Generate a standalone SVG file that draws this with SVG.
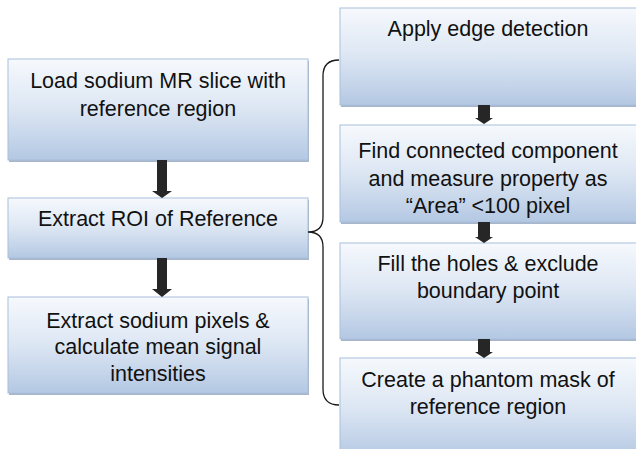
<svg xmlns="http://www.w3.org/2000/svg" width="636" height="449" viewBox="0 0 636 449">
  <defs>
    <linearGradient id="boxFill" x1="0" y1="0" x2="0" y2="1">
      <stop offset="0" stop-color="#f6f9fd"/>
      <stop offset="0.5" stop-color="#dce6f3"/>
      <stop offset="1" stop-color="#b4c8e3"/>
    </linearGradient>
  </defs>
  <style>
    .shadow { fill: #8a9dba; opacity: 0.75; }
    .box { fill: url(#boxFill); stroke: #a9bfdc; stroke-width: 1; }
    .label { font-family: "Liberation Sans", Arial, sans-serif; font-size: 21.5px; fill: #111; text-anchor: middle; }
    .arrow { fill: #262626; }
    .brace { fill: none; stroke: #1a1a1a; stroke-width: 1.3; }
  </style>
  <rect width="636" height="449" fill="#ffffff"/>

  <!-- left column -->
  <g id="load-slice">
    <rect class="shadow" x="9" y="61" width="300" height="101"/>
    <rect class="box" x="8" y="59" width="300" height="101"/>
    <text class="label" x="158" y="88">Load sodium MR slice with</text>
    <text class="label" x="158" y="116">reference region</text>
  </g>
  <g id="extract-roi">
    <rect class="shadow" x="9" y="200" width="300" height="60"/>
    <rect class="box" x="8" y="198" width="300" height="60"/>
    <text class="label" x="158" y="226">Extract ROI of Reference</text>
  </g>
  <g id="extract-pixels">
    <rect class="shadow" x="9" y="299" width="300" height="96"/>
    <rect class="box" x="8" y="297" width="300" height="96"/>
    <text class="label" x="158" y="328">Extract sodium pixels &amp;</text>
    <text class="label" x="158" y="354">calculate mean signal</text>
    <text class="label" x="158" y="381">intensities</text>
  </g>

  <!-- right column -->
  <g id="edge-detection">
    <rect class="shadow" x="341" y="10" width="300" height="97"/>
    <rect class="box" x="340" y="8" width="300" height="97"/>
    <text class="label" x="488" y="36">Apply edge detection</text>
  </g>
  <g id="connected-component">
    <rect class="shadow" x="341" y="127" width="300" height="97"/>
    <rect class="box" x="340" y="125" width="300" height="97"/>
    <text class="label" x="488" y="158">Find connected component</text>
    <text class="label" x="488" y="186">and measure property as</text>
    <text class="label" x="488" y="213">“Area” &lt;100 pixel</text>
  </g>
  <g id="fill-holes">
    <rect class="shadow" x="341" y="245" width="300" height="96"/>
    <rect class="box" x="340" y="243" width="300" height="96"/>
    <text class="label" x="488" y="271">Fill the holes &amp; exclude</text>
    <text class="label" x="488" y="298">boundary point</text>
  </g>
  <g id="phantom-mask">
    <rect class="shadow" x="341" y="360" width="300" height="100"/>
    <rect class="box" x="340" y="358" width="300" height="100"/>
    <text class="label" x="488" y="387">Create a phantom mask of</text>
    <text class="label" x="488" y="414">reference region</text>
  </g>

  <!-- connectors -->
  <g id="connectors">
    <polygon class="arrow" points="157,160 167,160 167,191 172,191 162,198 152,191 157,191"/>
    <polygon class="arrow" points="157,258 167,258 167,289 172,289 162,297 152,289 157,289"/>
    <polygon class="arrow" points="478,105 490,105 490,118 493,118 484,124 475,118 478,118"/>
    <polygon class="arrow" points="478,222 490,222 490,237 493,237 484,243 475,237 478,237"/>
    <polygon class="arrow" points="478,339 490,339 490,352 493,352 484,358 475,352 478,352"/>
    <path class="brace" d="M339,60 Q323,60 323,76 L323,217 Q323,232 308,232 Q323,232 323,247 L323,389 Q323,405 339,405"/>
  </g>
</svg>
